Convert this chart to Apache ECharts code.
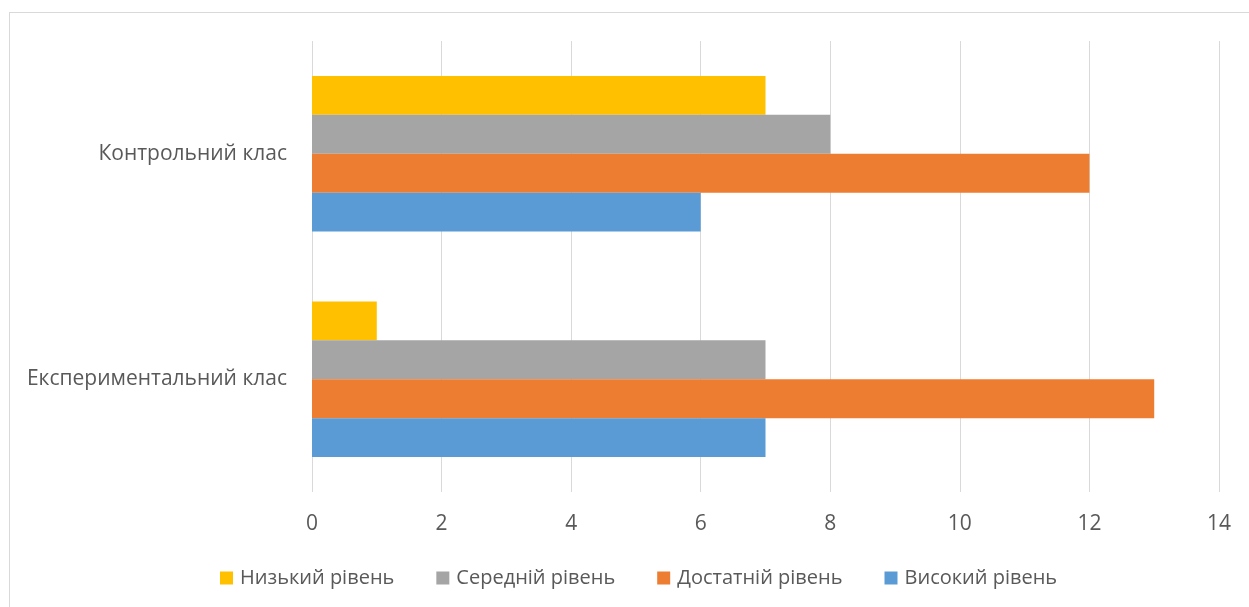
<!DOCTYPE html>
<html>
<head>
<meta charset="utf-8">
<script src="https://cdn.jsdelivr.net/npm/echarts@6/dist/echarts.min.js"></script>
<style>
  html, body { margin: 0; padding: 0; background: #fff; }
  #frame { position: absolute; left: 9px; top: 12px; width: 1250px; height: 600px; border: 1px solid #d9d9d9; box-sizing: border-box; }
  #chart { position: absolute; left: 0; top: 0; width: 1249px; height: 607px; }
</style>
</head>
<body>
<div id="frame"></div>
<div id="chart"></div>
<script>
// Класи (знизу вгору, як на осі)
const categories = ['Експериментальний клас', 'Контрольний клас'];

// Рівні навчальних досягнень
const levelNames = ['Низький рівень', 'Середній рівень', 'Достатній рівень', 'Високий рівень'];
const lowLevel = [1, 7];
const middleLevel = [7, 8];
const sufficientLevel = [13, 12];
const highLevel = [7, 6];

const xTicks = { min: 0, max: 14, interval: 2 };
const colors = ['#FFC000', '#A5A5A5', '#ED7D31', '#5B9BD5'];

const values = [lowLevel, middleLevel, sufficientLevel, highLevel];
const font = 'Open Sans, Noto Sans, sans-serif';

const chart = echarts.init(document.getElementById('chart'), null, { renderer: 'canvas' });
chart.setOption({
  animation: false,
  textStyle: { fontFamily: font },
  grid: { left: 312, right: 30, top: 41, bottom: 115, containLabel: false },
  legend: {
    data: levelNames,
    top: 563,
    left: 215,
    itemWidth: 13,
    itemHeight: 13,
    itemGap: 42,
    icon: 'rect',
    textStyle: { color: '#595959', fontSize: 20, fontFamily: font, padding: [0, 0, 0, 2] }
  },
  xAxis: {
    type: 'value',
    min: xTicks.min,
    max: xTicks.max,
    interval: xTicks.interval,
    axisLine: { show: false },
    axisTick: { show: false },
    axisLabel: { color: '#595959', fontSize: 21, margin: 22, fontFamily: font },
    splitLine: { lineStyle: { color: '#d9d9d9', width: 1 } }
  },
  yAxis: {
    type: 'category',
    data: categories,
    axisLine: { show: false },
    axisTick: { show: false },
    axisLabel: { color: '#595959', fontSize: 21, margin: 25, fontFamily: font }
  },
  series: levelNames.map((name, i) => ({
    name: name,
    type: 'bar',
    data: values[i],
    itemStyle: { color: colors[i] },
    barGap: '0%',
    barCategoryGap: '31%'
  }))
});
</script>
</body>
</html>
